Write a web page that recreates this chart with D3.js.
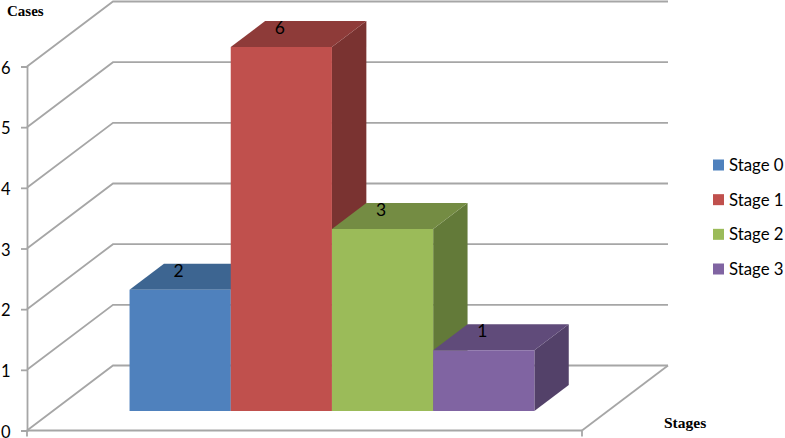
<!DOCTYPE html>
<html>
<head>
<meta charset="utf-8">
<script src="https://cdn.jsdelivr.net/npm/d3@7"></script>
<style>
  html, body { margin: 0; padding: 0; background: #fff; }
  svg { display: block; }
</style>
</head>
<body>
<div class="main"></div>
<script>
// Values
const stages = ["Stage 0", "Stage 1", "Stage 2", "Stage 3"]
const cases = [2, 6, 3, 1]
const yTicks = [0, 1, 2, 3, 4, 5, 6]

const frontColors = ["#4f81bd", "#c0504d", "#9bbb59", "#8064a2"]
const topColors = ["#3d6591", "#8e3b39", "#748c43", "#604b7a"]
const sideColors = ["#375a83", "#7a3331", "#637a39", "#534169"]

const width = 785
const height = 438
const margin = ({top: 66.5, right: 203, bottom: 7.5, left: 27})
const gridColor = "#a6a6a6"

// Oblique projection: depth 0 is the front of the floor, depth 1 the back wall
const depthX = 86
const depthY = -65
const barFront = 0.3
const barBack = 0.7

const x = d3.scaleBand()
  .domain(stages)
  .range([margin.left, width - margin.right])
  .paddingInner(0)
  .paddingOuter(0.742)
  .align(0.511)

const y = d3.scaleLinear()
  .domain([0, 6])
  .range([height - margin.bottom, margin.top])

const project = (px, value, depth) => [px + depth * depthX, y(value) + depth * depthY]
const line = d3.line()
const poly = pts => line(pts) + "Z"

const svg = d3.select(".main")
  .append("svg")
    .attr("width", width)
    .attr("height", height)
    .attr("viewBox", [0, 0, width, height])

// Gridlines, side wall and back wall
const x0 = margin.left
const x1 = width - margin.right

svg.append("g")
  .attr("id", "grid")
  .selectAll("path")
  .data(yTicks)
  .join("path")
    .attr("d", d => line([project(x0, d, 0), project(x0, d, 1), project(x1, d, 1)]))
    .attr("fill", "none")
    .attr("stroke", gridColor)
    .attr("stroke-width", 1.8)

// Right edge of the floor
svg.append("path")
  .attr("d", line([project(x1, 0, 1), project(x1, 0, 0)]))
  .attr("fill", "none")
  .attr("stroke", gridColor)
  .attr("stroke-width", 1.8)

// Y axis
const yAxis = svg.append("g")
  .attr("transform", `translate(${x0}, 0)`)
  .call(d3.axisLeft(y).tickValues(yTicks).tickFormat(d3.format("d")).tickSize(6).tickPadding(10.5))

yAxis.selectAll("path, line")
  .attr("stroke", gridColor)
  .attr("stroke-width", 1.8)

// The digits sit a bit below their ticks in the original
yAxis.selectAll("text")
  .attr("dy", "0.4em")
  .attr("font-family", "Lato")
  .attr("font-size", 16.5)
  .attr("fill", "#000")

// X axis is only a line with an end tick at each side
svg.append("path")
  .attr("d", line([[x0, y(0)], [x1, y(0)]]))
  .attr("stroke", gridColor)
  .attr("stroke-width", 2.2)

svg.append("g")
  .selectAll("path")
  .data([x0, x1])
  .join("path")
    .attr("d", d => line([[d, y(0)], [d, y(0) + 6]]))
    .attr("stroke", gridColor)
    .attr("stroke-width", 1.8)

// Bars, left to right so each one covers the side of the one before
const bars = svg.append("g")
  .attr("id", "bars")
  .selectAll("g")
  .data(stages)
  .join("g")

const left = d => x(d)
const right = d => x(d) + x.bandwidth()
const val = (_, i) => cases[i]

bars.append("path")
  .attr("d", (d, i) => poly([
    project(right(d), 0, barFront), project(right(d), 0, barBack),
    project(right(d), val(d, i), barBack), project(right(d), val(d, i), barFront)
  ]))
  .attr("fill", (_, i) => sideColors[i])

bars.append("path")
  .attr("d", (d, i) => poly([
    project(left(d), val(d, i), barFront), project(left(d), val(d, i), barBack),
    project(right(d), val(d, i), barBack), project(right(d), val(d, i), barFront)
  ]))
  .attr("fill", (_, i) => topColors[i])

bars.append("path")
  .attr("d", (d, i) => poly([
    project(left(d), 0, barFront), project(left(d), val(d, i), barFront),
    project(right(d), val(d, i), barFront), project(right(d), 0, barFront)
  ]))
  .attr("fill", (_, i) => frontColors[i])

// Value labels sit on the bar tops, about centred over the front face
bars.append("text")
  .text((d, i) => val(d, i))
  .attr("x", d => project(left(d) + x.bandwidth() / 2, 0, barFront)[0] - 1.5)
  .attr("y", (d, i) => project(left(d), val(d, i), barFront)[1] - 19)
  .attr("dy", "0.35em")
  .attr("text-anchor", "middle")
  .attr("font-family", "Lato")
  .attr("font-size", 17.5)
  .attr("fill", "#000")

// Axis titles
svg.append("text")
  .text("Cases")
  .attr("x", 7)
  .attr("y", 16)
  .attr("font-family", "Liberation Serif")
  .attr("font-weight", "bold")
  .attr("font-size", 15)
  .attr("fill", "#000")

svg.append("text")
  .text("Stages")
  .attr("x", 664)
  .attr("y", 428)
  .attr("font-family", "Liberation Serif")
  .attr("font-weight", "bold")
  .attr("font-size", 15.5)
  .attr("fill", "#000")

// Legend
const legendY = d3.scalePoint()
  .domain(stages)
  .range([165, 269])

const legend = svg.append("g")
  .attr("id", "legend")
  .selectAll("g")
  .data(stages)
  .join("g")
    .attr("transform", d => `translate(713, ${legendY(d)})`)

legend.append("rect")
  .attr("x", 0)
  .attr("y", -5.5)
  .attr("width", 11)
  .attr("height", 11)
  .attr("fill", (_, i) => frontColors[i])

legend.append("text")
  .text(d => d)
  .attr("x", 16)
  .attr("dy", "0.35em")
  .attr("font-family", "Lato")
  .attr("font-size", 16.8)
  .attr("fill", "#000")
</script>
</body>
</html>
